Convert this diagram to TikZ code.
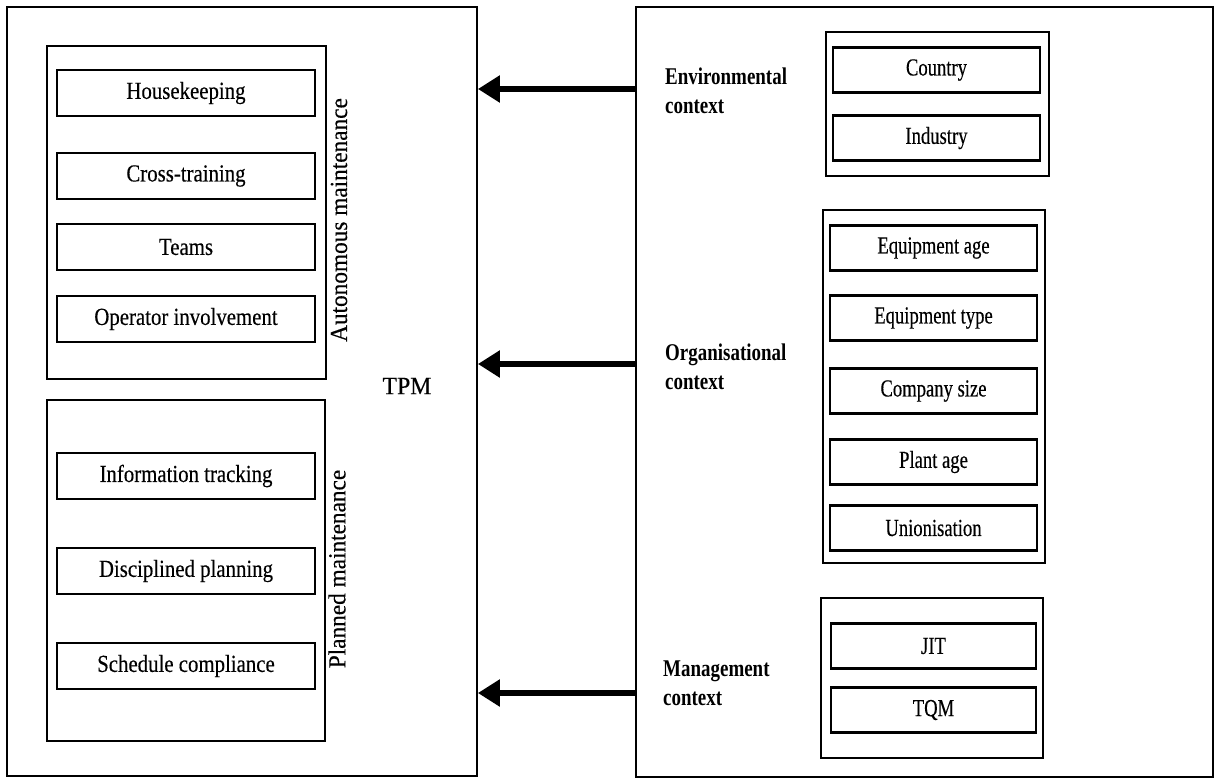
\documentclass[tikz,border=0pt]{standalone}
\usepackage{fontspec}
\setmainfont{Liberation Serif}
\newfontfamily\lcond{Liberation Serif}[FakeStretch=0.85,FakeBold=0.3]
\newfontfamily\rcond{Liberation Serif}[FakeStretch=0.76,FakeBold=0.3]
\newfontfamily\sidefont{Liberation Serif}[FakeStretch=0.95,FakeBold=0.3]
\newfontfamily\ctxfont{Liberation Serif Bold}[FakeStretch=0.79]
\usetikzlibrary{arrows.meta}
\begin{document}
\begin{tikzpicture}[x=1pt,y=-1pt,
  frame/.style={draw, line width=1.8pt, inner sep=0pt},
  group/.style={draw, line width=2pt, inner sep=0pt},
  leftitem/.style={draw, line width=2.2pt, minimum width=258pt, minimum height=46pt,
    inner sep=0pt, font=\lcond\fontsize{24.5}{28}\selectfont},
  rightitem/.style={draw, line width=2.2pt, minimum width=207pt, minimum height=45pt,
    inner sep=0pt, font=\rcond\fontsize{24.5}{28}\selectfont},
  sidelabel/.style={rotate=90, inner sep=0pt, font=\sidefont\fontsize{24.5}{28}\selectfont},
  ctxlabel/.style={anchor=west, align=left, inner sep=0pt,
    font=\ctxfont\fontsize{24}{29}\selectfont},
  influence/.style={line width=5.5pt, -{Triangle[length=22pt,width=26pt]}}
]
\useasboundingbox (0,0) rectangle (1215,779);

% TPM side
\node[frame, minimum width=470pt, minimum height=769pt] (tpmbox) at (242,391.5) {};
\node[font=\sidefont\fontsize{25}{28}\selectfont] (tpm) at (407,386) {TPM};

\node[group, minimum width=279pt, minimum height=333pt] (am) at (186.5,212.5) {};
\node[leftitem] (hk) at (186,93)  {Housekeeping};
\node[leftitem] (ct) at (186,176) {Cross-training};
\node[leftitem] (tm) at (186,247) {Teams};
\node[leftitem] (oi) at (186,319) {Operator involvement};
\node[sidelabel] (aml) at (339,220) {Autonomous maintenance};

\node[group, minimum width=278pt, minimum height=341pt] (pm) at (186,570.5) {};
\node[leftitem] (it) at (186,476) {Information tracking};
\node[leftitem] (dp) at (186,571) {Disciplined planning};
\node[leftitem] (sc) at (186,666) {Schedule compliance};
\node[sidelabel] (pml) at (337,569) {Planned maintenance};

% Context side
\node[frame, minimum width=577pt, minimum height=770pt] (ctxbox) at (924.5,392) {};

\node[ctxlabel] (env) at (665,91)  {Environmental\\context};
\node[group, minimum width=223pt, minimum height=144pt] (envg) at (937.5,104) {};
\node[rightitem] (cty) at (936.5,70)  {Country};
\node[rightitem] (ind) at (936.5,138) {Industry};

\node[ctxlabel] (org) at (665,367) {Organisational\\context};
\node[group, minimum width=222pt, minimum height=353pt] (orgg) at (934,386.5) {};
\node[rightitem] (ea) at (933.5,248) {Equipment age};
\node[rightitem] (et) at (933.5,318) {Equipment type};
\node[rightitem] (cs) at (933.5,391) {Company size};
\node[rightitem] (pa) at (933.5,462) {Plant age};
\node[rightitem] (un) at (933.5,528) {Unionisation};

\node[ctxlabel] (mgt) at (663,683) {Management\\context};
\node[group, minimum width=222pt, minimum height=160pt] (mgtg) at (932,678) {};
\node[rightitem, minimum width=205pt] (jit) at (933.5,646) {JIT};
\node[rightitem, minimum width=205pt] (tqm) at (933.5,710) {TQM};

% Influences of each context on TPM
\draw[influence] (ctxbox.west |- 0,89)  -- (tpmbox.east |- 0,89);
\draw[influence] (ctxbox.west |- 0,364) -- (tpmbox.east |- 0,364);
\draw[influence] (ctxbox.west |- 0,693) -- (tpmbox.east |- 0,693);
\end{tikzpicture}
\end{document}
